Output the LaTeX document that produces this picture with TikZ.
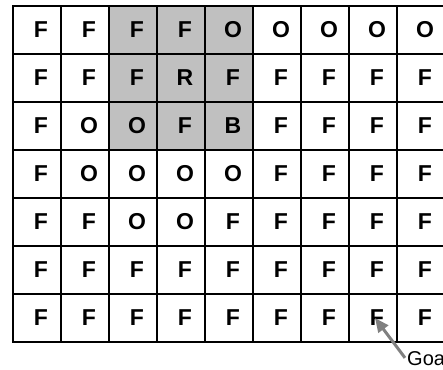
\documentclass[tikz,border=0pt]{standalone}
\usepackage{fontspec}
\setmainfont{Liberation Sans}
\usetikzlibrary{arrows.meta}
\definecolor{shadegray}{RGB}{192,192,192}
\definecolor{arrowgray}{RGB}{128,128,128}
\tikzset{
  gridfont/.style={font=\fontsize{23}{23}\selectfont\bfseries},
  cellbox/.style={draw, line width=1.6pt, minimum size=48pt, inner sep=0pt},
  cellshade/.style={fill=shadegray},
  goalfont/.style={font=\fontsize{20}{20}\selectfont, inner sep=0pt},
  goalarrow/.style={-{Triangle[length=14pt, width=12pt]}, line width=3pt, draw=arrowgray, fill=arrowgray},
}
\begin{document}
\begin{tikzpicture}[x=1pt, y=-1pt, gridfont]
  \useasboundingbox (0,0) rectangle (443,369);

  % Shaded cells round the robot
  \foreach \i in {2,3,4}
    \foreach \j in {0,1,2}
      \fill[cellshade] (13+48*\i,6+48*\j) rectangle ++(48,48);

  % Grid of cells, one row of letters per item
  \foreach \letters [count=\j from 0] in {
      {F,F,F,F,O,O,O,O,O},
      {F,F,F,R,F,F,F,F,F},
      {F,O,O,F,B,F,F,F,F},
      {F,O,O,O,O,F,F,F,F},
      {F,F,O,O,F,F,F,F,F},
      {F,F,F,F,F,F,F,F,F},
      {F,F,F,F,F,F,F,F,F}}
    \foreach \ch [count=\i from 0] in \letters {
      \node[cellbox] (c\i-\j) at (37+48*\i,30+48*\j) {};
      \node[xshift=4pt] (t\i-\j) at (c\i-\j) {\ch};
    }

  % Goal marker
  \node[goalfont, anchor=base west] (goal) at (407,365) {Goal};
  \draw[goalarrow] ([xshift=-2pt]goal.west) -- ([xshift=-2pt]t7-6.center);
\end{tikzpicture}
\end{document}
